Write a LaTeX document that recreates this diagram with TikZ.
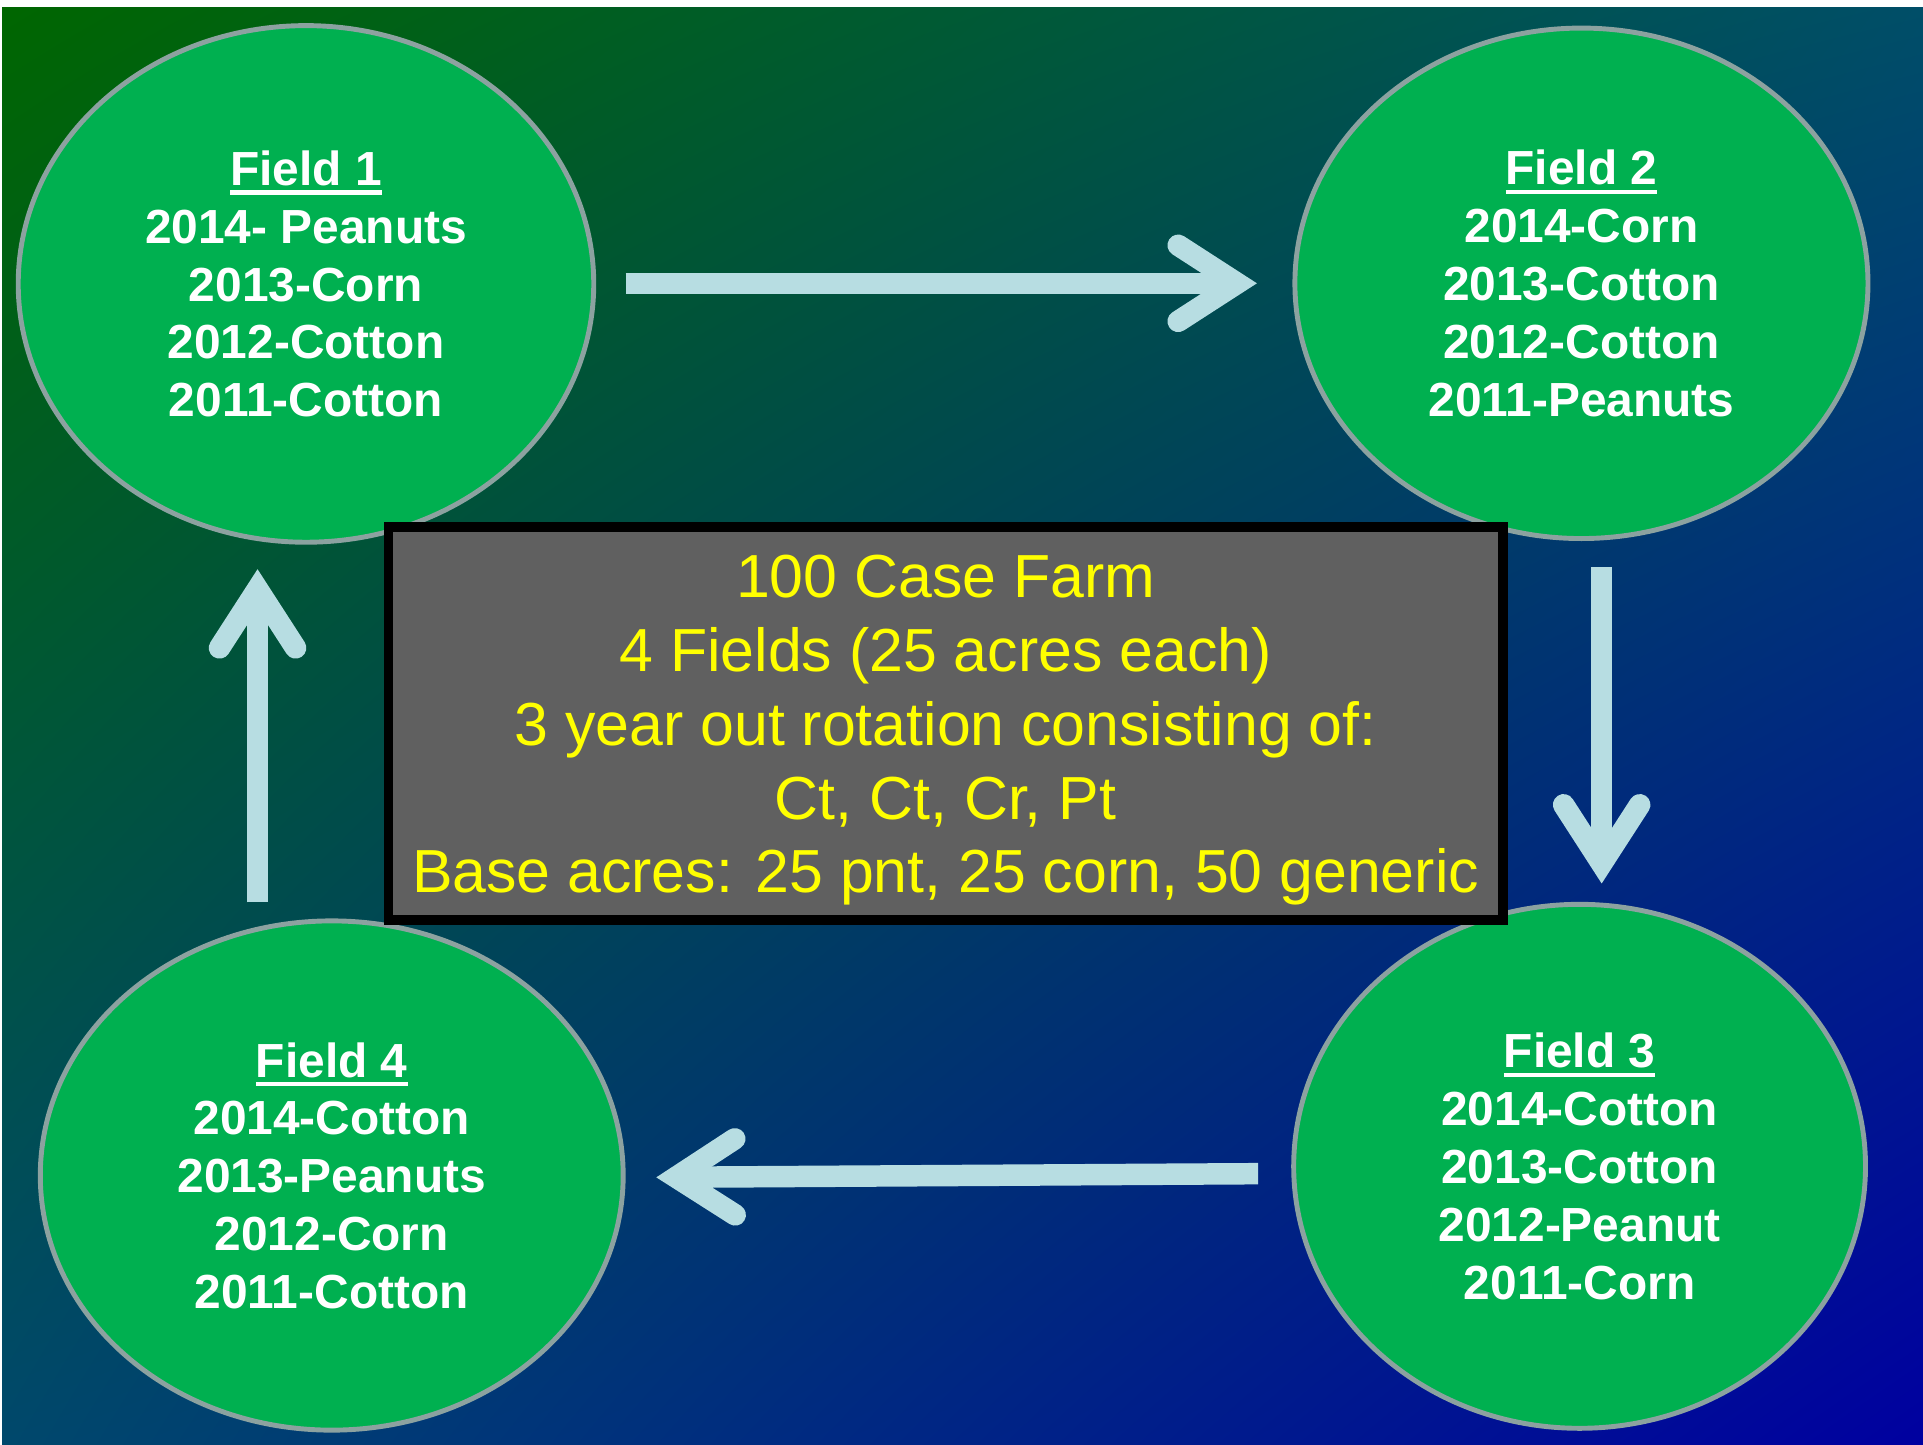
\documentclass[tikz,border=0pt]{standalone}
\usepackage{fontspec}
\setmainfont{Liberation Sans}
\usetikzlibrary{shapes.geometric, arrows.meta, calc, shadings}
\definecolor{bgTL}{RGB}{0,102,0}
\definecolor{bgTR}{RGB}{0,78,104}
\definecolor{bgBL}{RGB}{0,72,108}
\definecolor{bgBR}{RGB}{0,0,160}
\definecolor{fieldgreen}{RGB}{0,176,80}
\definecolor{fieldline}{RGB}{140,162,160}
\definecolor{farmgray}{RGB}{96,96,96}
\definecolor{farmyellow}{RGB}{255,255,0}
\definecolor{arrowblue}{RGB}{183,221,226}
\newcommand{\fieldhead}[1]{\setbox0=\hbox{#1}\rlap{\rule[-0.19em]{\wd0}{0.09em}}\box0}
\tikzstyle{field} = [ellipse, draw=fieldline, line width=0.04cm, fill=fieldgreen, text=white, align=center, inner sep=0pt, font=\fontsize{11.1}{13.4}\selectfont\bfseries]
\tikzstyle{summary} = [rectangle, draw=black, line width=0.08cm, fill=farmgray, text=farmyellow, align=center, minimum width=9.08cm, minimum height=3.12cm, font=\fontsize{14.1}{17.1}\selectfont]
\tikzstyle{arrow} = [line width=0.175cm, draw=arrowblue, -{Straight Barb[length=0.48cm, width=0.62cm, line cap=round, line join=miter]}]

\begin{document}
\begin{tikzpicture}[x=0.01cm, y=-0.01cm]

\useasboundingbox (0,0) rectangle (1568,1178);
\fill[white] (0,0) rectangle (1568,1178);
\shade[upper left=bgTL, upper right=bgTR, lower left=bgBL, lower right=bgBR] (1.7,5.8) rectangle (1568,1178);

\node at (249.5, 231.5) (f1) [field, minimum width=4.69cm, minimum height=4.21cm] {\fieldhead{Field 1}\\2014- Peanuts\\2013-Corn\\2012-Cotton\\2011-Cotton};
\node at (1289.5, 231) (f2) [field, minimum width=4.67cm, minimum height=4.16cm] {\fieldhead{Field 2}\\2014-Corn\\2013-Cotton\\2012-Cotton\\2011-Peanuts};
\node at (1288, 951) (f3) [field, minimum width=4.66cm, minimum height=4.27cm] {\fieldhead{Field 3}\\2014-Cotton\\2013-Cotton\\2012-Peanut\\2011-Corn};
\node at (270.5, 958.5) (f4) [field, minimum width=4.75cm, minimum height=4.15cm] {\fieldhead{Field 4}\\2014-Cotton\\2013-Peanuts\\2012-Corn\\2011-Cotton};

\node at (771, 590) (farm) [summary] {\rule{0pt}{13pt}100 Case Farm\\4 Fields (25 acres each)\\3 year out rotation consisting of:\\Ct, Ct, Cr, Pt\\Base acres: 25 pnt, 25 corn, 50 generic};

% rotation from field to field
\draw [arrow] ($(f1.east)+(24,-0.5)$) -- ($(f2.west)+(-29,0)$);
\draw [arrow] ($(f2.south)+(16.5,21)$) -- ($(f3.north)+(18,-15)$);
\draw [arrow] ($(f3.west)+(-27,6)$) -- ($(f4.east)+(25,1.5)$);
\draw [arrow] ($(f4.north)+(-60.5,-13)$) -- ($(f1.south)+(-39.5,20)$);

\end{tikzpicture}
\end{document}
